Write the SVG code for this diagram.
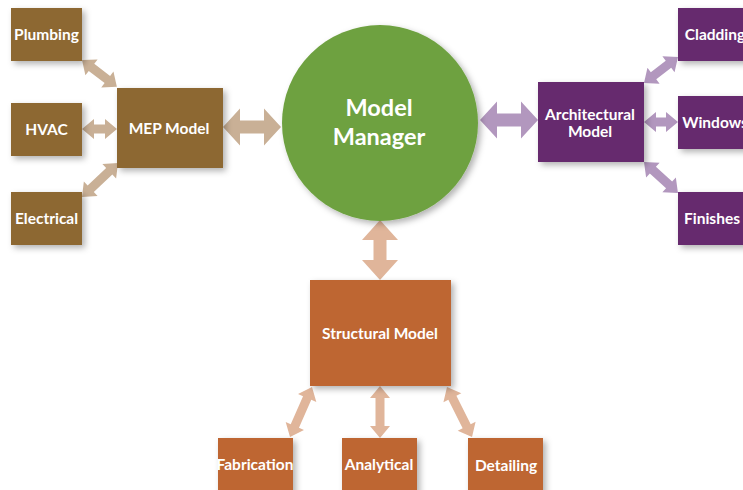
<svg xmlns="http://www.w3.org/2000/svg" width="743" height="490" viewBox="0 0 743 490">
<defs>
<filter id="sh" x="-20%" y="-20%" width="150%" height="150%">
<feDropShadow dx="3" dy="3" stdDeviation="3" flood-color="#000" flood-opacity="0.3"/>
</filter>
</defs>
<style>
.t{font-family:Lato,"Open Sans","Liberation Sans",sans-serif;font-weight:bold;fill:#fff;text-anchor:middle;font-size:15.5px}
.big{font-size:23.5px}
.mep{fill:#8D6733}
.arc{fill:#66296E}
.str{fill:#BE6631}
.a1{fill:#C9B096}
.a2{fill:#B297BE}
.a3{fill:#E0B59A}
</style>
<rect width="743" height="490" fill="#fff"/>
<g id="connectors">
<path class="a1" transform="translate(82,60) rotate(37.6)" d="M0,0 L12,-10 L12,-4.5 L32,-4.5 L32,-10 L44,0 L32,10 L32,4.5 L12,4.5 L12,10 Z"/>
<path class="a1" transform="translate(82,129)" d="M0,0 L12,-10 L12,-4.5 L23,-4.5 L23,-10 L35,0 L23,10 L23,4.5 L12,4.5 L12,10 Z"/>
<path class="a1" transform="translate(82,197) rotate(-43.4)" d="M0,0 L12,-10 L12,-4.5 L37.5,-4.5 L37.5,-10 L49.5,0 L37.5,10 L37.5,4.5 L12,4.5 L12,10 Z"/>
<path class="a1" transform="translate(223,127)" d="M0,0 L17,-18.5 L17,-6.5 L41,-6.5 L41,-18.5 L58,0 L41,18.5 L41,6.5 L17,6.5 L17,18.5 Z"/>
<path class="a2" transform="translate(480,120)" d="M0,0 L17,-18.5 L17,-6.5 L41,-6.5 L41,-18.5 L58,0 L41,18.5 L41,6.5 L17,6.5 L17,18.5 Z"/>
<path class="a3" transform="translate(380,220) rotate(90)" d="M0,0 L20,-18 L20,-6.5 L40,-6.5 L40,-18 L60,0 L40,18 L40,6.5 L20,6.5 L20,18 Z"/>
<path class="a2" transform="translate(644,83) rotate(-37.4)" d="M0,0 L12,-10 L12,-4.5 L30.8,-4.5 L30.8,-10 L42.8,0 L30.8,10 L30.8,4.5 L12,4.5 L12,10 Z"/>
<path class="a2" transform="translate(644,122)" d="M0,0 L12,-10 L12,-4.5 L22,-4.5 L22,-10 L34,0 L22,10 L22,4.5 L12,4.5 L12,10 Z"/>
<path class="a2" transform="translate(644,162) rotate(42.4)" d="M0,0 L12,-10 L12,-4.5 L34,-4.5 L34,-10 L46,0 L34,10 L34,4.5 L12,4.5 L12,10 Z"/>
<path class="a3" transform="translate(312,387) rotate(113.75)" d="M0,0 L12,-10 L12,-4.5 L42.6,-4.5 L42.6,-10 L54.6,0 L42.6,10 L42.6,4.5 L12,4.5 L12,10 Z"/>
<path class="a3" transform="translate(380,386) rotate(90)" d="M0,0 L12,-10 L12,-4.5 L40,-4.5 L40,-10 L52,0 L40,10 L40,4.5 L12,4.5 L12,10 Z"/>
<path class="a3" transform="translate(447,387) rotate(63.4)" d="M0,0 L12,-10 L12,-4.5 L43.9,-4.5 L43.9,-10 L55.9,0 L43.9,10 L43.9,4.5 L12,4.5 L12,10 Z"/>
</g>
<g id="plumbing"><rect class="mep" x="11" y="8" width="71" height="53" filter="url(#sh)"/><text class="t" x="46.5" y="40">Plumbing</text></g>
<g id="hvac"><rect class="mep" x="11" y="103" width="71" height="53" filter="url(#sh)"/><text class="t" x="46.5" y="135">HVAC</text></g>
<g id="electrical"><rect class="mep" x="11" y="192" width="71" height="53" filter="url(#sh)"/><text class="t" x="46.5" y="224">Electrical</text></g>
<g id="mep-model"><rect class="mep" x="117" y="88" width="106" height="80" filter="url(#sh)"/><text class="t" x="169" y="133.5">MEP Model</text></g>
<g id="model-manager"><circle cx="380" cy="123" r="98" fill="#6EA141" filter="url(#sh)"/><text class="t big" x="379" y="116">Model</text><text class="t big" x="379" y="145">Manager</text></g>
<g id="architectural-model"><rect class="arc" x="538" y="82" width="106" height="80" filter="url(#sh)"/><text class="t" x="590" y="120">Architectural</text><text class="t" x="590" y="136.5">Model</text></g>
<g id="cladding"><rect class="arc" x="678" y="8" width="71" height="53" filter="url(#sh)"/><text class="t" x="715" y="40">Cladding</text></g>
<g id="windows"><rect class="arc" x="678" y="96" width="71" height="53" filter="url(#sh)"/><text class="t" x="715" y="128">Windows</text></g>
<g id="finishes"><rect class="arc" x="678" y="192" width="71" height="53" filter="url(#sh)"/><text class="t" x="712" y="224">Finishes</text></g>
<g id="structural-model"><rect class="str" x="310" y="280" width="141" height="106" filter="url(#sh)"/><text class="t" x="380" y="338.5">Structural Model</text></g>
<g id="fabrication"><rect class="str" x="218" y="438" width="75" height="56" filter="url(#sh)"/><text class="t" x="255" y="469.5">Fabrication</text></g>
<g id="analytical"><rect class="str" x="342" y="438" width="75" height="56" filter="url(#sh)"/><text class="t" x="379" y="469.5">Analytical</text></g>
<g id="detailing"><rect class="str" x="468" y="438" width="75" height="56" filter="url(#sh)"/><text class="t" x="506" y="470.5">Detailing</text></g>
</svg>
